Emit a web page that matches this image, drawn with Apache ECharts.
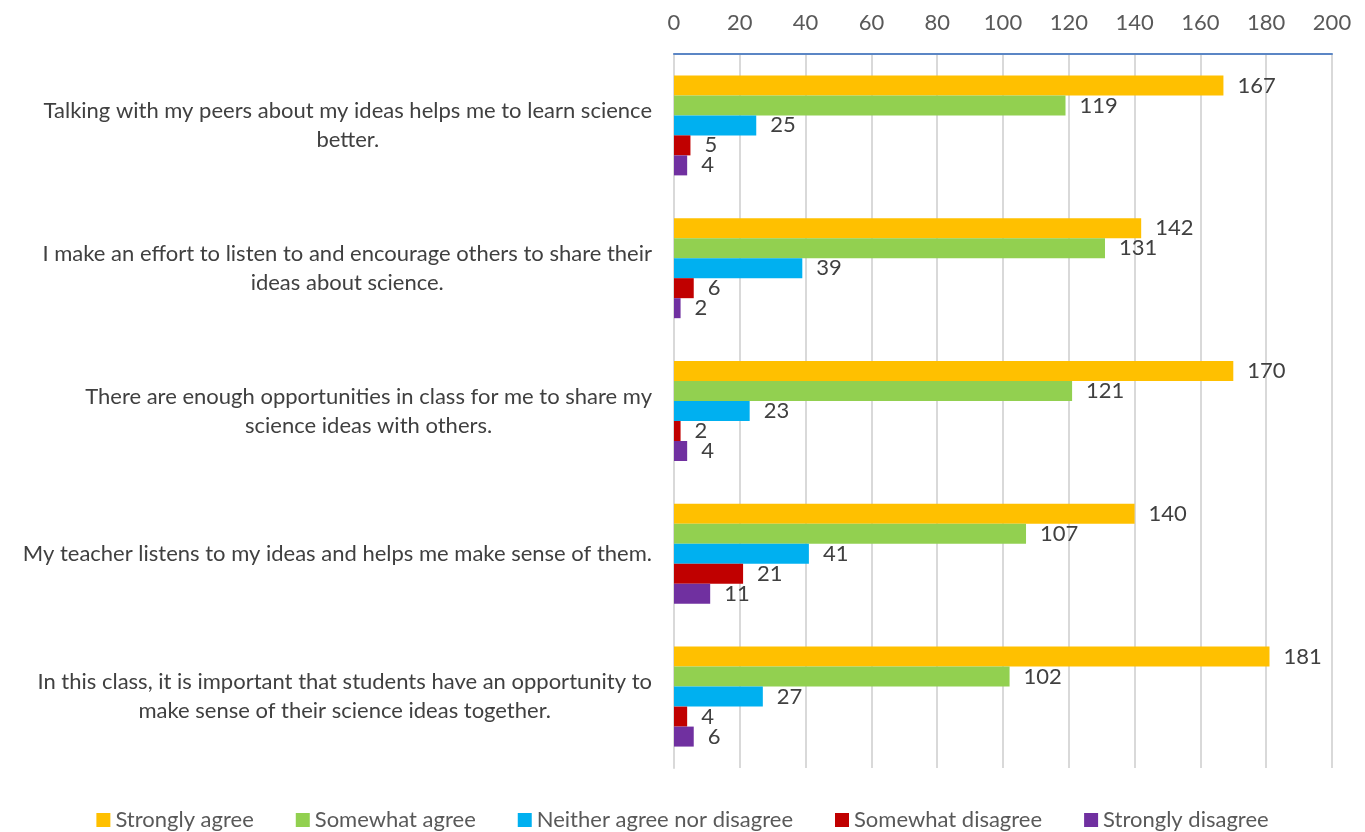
<!DOCTYPE html>
<html lang="en">
<head>
    <meta charset="UTF-8">
    <title>Science talk survey</title>
    <script src="https://cdn.jsdelivr.net/npm/echarts@6/dist/echarts.min.js"></script>
    <style>
        html, body { margin: 0; padding: 0; background: #fff; }
    </style>
</head>
<body>
    <div id="main" style="width: 1365px; height: 832px;"></div>
    <script>
        // statements, top to bottom as shown
        var statements = [
            'Talking with my peers about my ideas helps me to learn science\nbetter.',
            'I make an effort to listen to and encourage others to share their\nideas about science.',
            'There are enough opportunities in class for me to share my\nscience ideas with others.',
            'My teacher listens to my ideas and helps me make sense of them.',
            'In this class, it is important that students have an opportunity to\nmake sense of their science ideas together.'
        ];

        var responseNames = ['Strongly agree', 'Somewhat agree', 'Neither agree nor disagree', 'Somewhat disagree', 'Strongly disagree'];

        var stronglyAgree = [167, 142, 170, 140, 181];
        var somewhatAgree = [119, 131, 121, 107, 102];
        var neither = [25, 39, 23, 41, 27];
        var somewhatDisagree = [5, 6, 2, 21, 4];
        var stronglyDisagree = [4, 2, 4, 11, 6];

        var xTicks = { min: 0, max: 200, interval: 20 };

        var colors = ['#FFC000', '#92D050', '#00B0F0', '#C00000', '#7030A0'];
        var allValues = [stronglyAgree, somewhatAgree, neither, somewhatDisagree, stronglyDisagree];

        var chartDom = document.getElementById('main');
        var myChart = echarts.init(chartDom);
        var font = 'Lato, "Open Sans", sans-serif';

        var series = responseNames.map(function (name, i) {
            return {
                name: name,
                type: 'bar',
                data: allValues[i],
                barGap: '0%',
                barCategoryGap: '30%',
                itemStyle: { color: colors[i] },
                label: {
                    show: true,
                    position: 'right',
                    distance: 14,
                    color: '#404040',
                    fontSize: 22,
                    fontFamily: font
                }
            };
        });

        var option = {
            animation: false,
            textStyle: { fontFamily: font },
            grid: {
                left: 674,
                right: 33,
                top: 54,
                bottom: 64
            },
            legend: {
                bottom: -4,
                left: 'center',
                itemWidth: 14,
                itemHeight: 14,
                itemGap: 42,
                icon: 'rect',
                textStyle: { color: '#595959', fontSize: 22, fontFamily: font },
                data: responseNames
            },
            xAxis: {
                type: 'value',
                position: 'top',
                min: xTicks.min,
                max: xTicks.max,
                interval: xTicks.interval,
                axisLine: { show: true, lineStyle: { color: '#5B86C5', width: 2 } },
                axisTick: { show: false },
                axisLabel: { color: '#595959', fontSize: 22, margin: 20, fontFamily: font },
                splitLine: { show: true, lineStyle: { color: '#D9D9D9', width: 2 } }
            },
            yAxis: {
                type: 'category',
                inverse: true,
                data: statements,
                axisLine: { show: true, lineStyle: { color: '#D9D9D9', width: 2 } },
                axisTick: { show: false },
                axisLabel: {
                    margin: 22,
                    color: '#404040',
                    fontSize: 22,
                    lineHeight: 29,
                    fontFamily: font,
                    formatter: function (v) {
                        return v.split('\n').map(function (l) { return '{c|' + l + '}'; }).join('\n');
                    },
                    rich: {
                        c: { align: 'center', color: '#404040', fontSize: 22, lineHeight: 29, fontFamily: font }
                    }
                }
            },
            series: series
        };

        myChart.setOption(option);
    </script>
</body>
</html>
